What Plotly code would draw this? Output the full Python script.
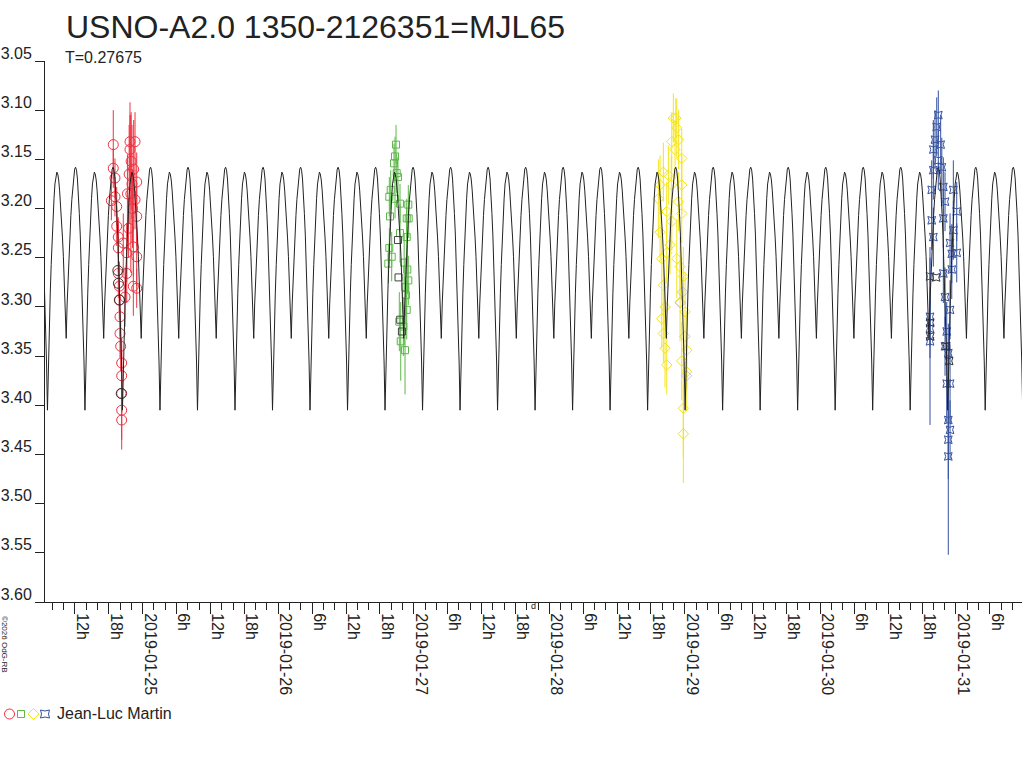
import pandas as pd
import plotly.graph_objects as go

TITLE = "USNO-A2.0 1350-2126351=MJL65"
SUBTITLE = "T=0.27675"
OBSERVER = "Jean-Luc Martin"
COPYRIGHT = "©2026 OdG-RB"

# model light curve: one cycle, repeated with the period T
period_days = 0.27675
epoch_min = "2019-01-25 09:42"  # a deep minimum
model_phase = [0.000, 0.025, 0.050, 0.075, 0.100, 0.125, 0.150, 0.175, 0.200, 0.225,
               0.250, 0.275, 0.300, 0.325, 0.350, 0.375, 0.400, 0.425, 0.450, 0.475,
               0.500, 0.525, 0.550, 0.575, 0.600, 0.625, 0.650, 0.675, 0.700, 0.725,
               0.750, 0.775, 0.800, 0.825, 0.850, 0.875, 0.900, 0.925, 0.950, 0.975]
model_mag = [3.405, 3.357, 3.318, 3.286, 3.257, 3.231, 3.209, 3.190, 3.175, 3.166,
             3.163, 3.165, 3.171, 3.182, 3.195, 3.210, 3.229, 3.249, 3.271, 3.298,
             3.332, 3.297, 3.269, 3.247, 3.226, 3.207, 3.191, 3.177, 3.167, 3.160,
             3.158, 3.161, 3.170, 3.185, 3.205, 3.227, 3.254, 3.284, 3.316, 3.356]

# night 2019-01-24, hours after midnight
red_hours = [18.79, 18.79, 19.09, 19.09, 19.40, 19.40, 19.68, 19.68, 19.68, 19.86,
             19.86, 19.98, 19.98, 20.10, 20.28, 20.28, 20.28, 20.28, 20.28,
             21.75, 22.64, 21.75, 21.95, 22.94, 22.64, 22.94, 22.34, 22.94, 21.17,
             22.34, 20.87, 22.94, 20.56, 21.17, 21.50, 21.30, 21.60, 22.10, 22.40,
             22.20, 18.45, 21.90]
red_mag = [3.135, 3.159, 3.169, 3.188, 3.198, 3.218, 3.229, 3.240, 3.266, 3.279,
           3.293, 3.310, 3.327, 3.340, 3.357, 3.370, 3.388, 3.405, 3.415,
           3.132, 3.132, 3.140, 3.152, 3.173, 3.191, 3.208, 3.239, 3.249, 3.266,
           3.279, 3.290, 3.281, 3.235, 3.245, 3.220, 3.185, 3.165, 3.175, 3.160,
           3.200, 3.192, 3.185]
red_err = [0.035, 0.020, 0.020, 0.020, 0.020, 0.020, 0.020, 0.025, 0.025, 0.025,
           0.020, 0.020, 0.025, 0.025, 0.025, 0.025, 0.020, 0.030, 0.030,
           0.040, 0.030, 0.035, 0.050, 0.030, 0.030, 0.030, 0.030, 0.030, 0.030,
           0.030, 0.030, 0.020, 0.030, 0.030, 0.030, 0.040, 0.050, 0.060, 0.050,
           0.040, 0.020, 0.080]
red_black_hours = [19.60, 19.70, 19.90, 20.20]
red_black_mag = [3.263, 3.276, 3.293, 3.388]

# night 2019-01-26
green_hours = [20.86, 20.68, 20.50, 20.98, 21.20, 19.92, 19.67, 20.68, 21.56, 23.03,
               19.79, 22.75, 23.10, 21.56, 22.75, 19.67, 20.09, 19.49, 22.30, 22.86,
               23.03, 22.50, 22.63, 22.75, 21.44, 22.15, 21.69, 22.45]
green_mag = [3.135, 3.147, 3.154, 3.164, 3.168, 3.181, 3.188, 3.190, 3.195, 3.196,
             3.208, 3.210, 3.210, 3.225, 3.229, 3.240, 3.249, 3.256, 3.255, 3.262,
             3.273, 3.280, 3.288, 3.303, 3.315, 3.320, 3.335, 3.344]
green_err = [0.020, 0.020, 0.020, 0.020, 0.020, 0.020, 0.020, 0.020, 0.020, 0.020,
             0.020, 0.020, 0.020, 0.030, 0.030, 0.020, 0.025, 0.020, 0.030, 0.025,
             0.025, 0.030, 0.030, 0.030, 0.030, 0.030, 0.040, 0.045]
green_black_hours = [21.20, 21.30, 21.60, 21.90]
green_black_mag = [3.232, 3.270, 3.313, 3.325]

# night 2019-01-28
yellow_hours = [21.96, 22.40, 22.57, 21.68, 22.90, 22.26, 23.45, 20.19, 19.61, 21.08,
                19.31, 21.60, 23.45, 22.85, 20.79, 23.45, 21.68, 19.61, 21.38, 19.91,
                20.79, 22.57, 23.15, 23.73, 20.19, 23.15, 20.49, 19.91, 24.04, 20.19,
                20.49, 24.34, 20.79, 23.45, 24.34, 23.73, 23.73]
yellow_mag = [3.108, 3.108, 3.118, 3.132, 3.130, 3.140, 3.149, 3.163, 3.176, 3.166,
              3.190, 3.176, 3.176, 3.193, 3.203, 3.205, 3.213, 3.224, 3.237, 3.251,
              3.245, 3.251, 3.259, 3.269, 3.278, 3.295, 3.300, 3.312, 3.305, 3.327,
              3.342, 3.344, 3.359, 3.355, 3.366, 3.403, 3.429]
yellow_err = [0.025, 0.020, 0.030, 0.030, 0.030, 0.030, 0.030, 0.030, 0.030, 0.030,
              0.040, 0.030, 0.030, 0.030, 0.030, 0.030, 0.030, 0.030, 0.030, 0.030,
              0.030, 0.040, 0.030, 0.030, 0.030, 0.040, 0.030, 0.030, 0.040, 0.030,
              0.040, 0.040, 0.030, 0.040, 0.040, 0.050, 0.050]
yellow_grey_hours = [23.20, 23.60, 24.00, 24.30]
yellow_grey_mag = [3.296, 3.285, 3.330, 3.370]

# night 2019-01-30
blue_hours = [20.88, 20.60, 20.30, 20.00, 21.30, 20.88, 20.00, 21.50, 19.71, 21.77,
              23.54, 22.07, 24.14, 19.71, 21.77, 23.54, 22.96, 20.00, 24.14, 23.26,
              21.77, 23.26, 19.41, 22.07, 22.96, 19.41, 19.41, 22.37, 19.41, 22.07,
              22.65, 22.37, 22.96, 22.65, 22.65, 22.65, 22.96]
blue_mag = [3.105, 3.117, 3.130, 3.140, 3.135, 3.151, 3.161, 3.158, 3.181, 3.178,
            3.181, 3.193, 3.203, 3.212, 3.210, 3.222, 3.235, 3.229, 3.245, 3.246,
            3.266, 3.262, 3.269, 3.290, 3.303, 3.310, 3.322, 3.325, 3.335, 3.340,
            3.347, 3.378, 3.378, 3.415, 3.435, 3.452, 3.425]
blue_err = [0.025, 0.030, 0.030, 0.030, 0.030, 0.030, 0.030, 0.030, 0.030, 0.030,
            0.030, 0.030, 0.030, 0.030, 0.030, 0.030, 0.030, 0.030, 0.030, 0.030,
            0.030, 0.030, 0.030, 0.030, 0.030, 0.030, 0.030, 0.030, 0.085, 0.030,
            0.030, 0.040, 0.040, 0.040, 0.040, 0.100, 0.030]
blue_black_hours = [19.45, 19.45, 20.50, 22.30, 22.80]
blue_black_mag = [3.316, 3.330, 3.270, 3.340, 3.355]

y_ticks = [3.05, 3.10, 3.15, 3.20, 3.25, 3.30, 3.35, 3.40, 3.45, 3.50, 3.55, 3.60]
x_tick_text = ["12h", "18h", "2019-01-25", "6h", "12h", "18h", "2019-01-26",
               "6h", "12h", "18h", "2019-01-27", "6h", "12h", "18h", "2019-01-28",
               "6h", "12h", "18h", "2019-01-29", "6h", "12h", "18h", "2019-01-30",
               "6h", "12h", "18h", "2019-01-31", "6h"]
x_range = ["2019-01-24 06:42", "2019-01-31 11:42"]
last_quarter = "2019-01-27 21:10"

FONT = "Liberation Sans, Arial, sans-serif"
INK = "#222222"


def to_time(date, hours):
    return pd.Timestamp(date) + pd.to_timedelta(hours, unit="h")


def model_curve():
    t0 = pd.Timestamp(epoch_min)
    times, mags = [], []
    for n in range(-5, 23):
        for ph, m in zip(model_phase, model_mag):
            times.append(t0 + pd.to_timedelta((n + ph) * period_days, unit="D"))
            mags.append(m)
    return times, mags


fig = go.Figure()


def add_group(date, hours, mag, err, color, symbol, size):
    fig.add_trace(
        go.Scatter(
            x=to_time(date, hours),
            y=mag,
            mode="markers",
            marker=dict(symbol=symbol, size=size, color=color, line=dict(width=1, color=color)),
            error_y=dict(type="data", array=err, width=0, thickness=1, color=color),
            showlegend=False,
        )
    )


def add_extra(date, hours, mag, color, symbol, size):
    fig.add_trace(
        go.Scatter(
            x=to_time(date, hours),
            y=mag,
            mode="markers",
            marker=dict(symbol=symbol, size=size, color=color, line=dict(width=1, color=color)),
            showlegend=False,
        )
    )


RED, GREEN, YELLOW, BLUE = "#ee3340", "#5cb848", "#f4e41c", "#3652a0"

add_group("2019-01-24", red_hours, red_mag, red_err, RED, "circle-open", 10)
add_extra("2019-01-24", red_black_hours, red_black_mag, "#333333", "circle-open", 10)
add_group("2019-01-26", green_hours, green_mag, green_err, GREEN, "square-open", 7)
add_extra("2019-01-26", green_black_hours, green_black_mag, "#444444", "square-open", 7)
add_group("2019-01-28", yellow_hours, yellow_mag, yellow_err, YELLOW, "diamond-open", 8)
add_extra("2019-01-28", yellow_grey_hours, yellow_grey_mag, "#c8c8c8", "diamond-open", 8)
add_group("2019-01-30", blue_hours, blue_mag, blue_err, BLUE, "star-square-open", 7)
add_extra("2019-01-30", blue_black_hours, blue_black_mag, "#333333", "star-square-open", 7)

mt, mm = model_curve()
fig.add_trace(
    go.Scatter(x=mt, y=mm, mode="lines", line=dict(color=INK, width=1), showlegend=False)
)

tickvals = pd.date_range("2019-01-24 12:00", periods=len(x_tick_text), freq="6h")

fig.update_layout(
    width=1024,
    height=768,
    margin=dict(l=45, r=2, t=61, b=166, autoexpand=False),
    paper_bgcolor="white",
    plot_bgcolor="white",
    font=dict(family=FONT, color=INK),
    xaxis=dict(
        type="date",
        range=x_range,
        tickmode="array",
        tickvals=tickvals,
        ticktext=x_tick_text,
        tickangle=90,
        ticks="outside",
        ticklen=11,
        tickcolor=INK,
        ticklabelshift=7,
        ticklabelstandoff=-4,
        tickfont=dict(size=16, family=FONT, color=INK),
        minor=dict(ticks="outside", ticklen=7, tickcolor=INK,
                   tick0="2019-01-24 00:00", dtick=2 * 3600 * 1000),
        showline=True,
        linecolor=INK,
        linewidth=1,
        showgrid=False,
        zeroline=False,
    ),
    yaxis=dict(
        range=[3.60, 3.05],
        tickmode="array",
        tickvals=y_ticks,
        ticktext=["%.2f" % v for v in y_ticks],
        ticks="outside",
        ticklen=9,
        tickcolor=INK,
        ticklabelshift=8,
        tickfont=dict(size=16, family=FONT, color=INK),
        showline=True,
        linecolor=INK,
        linewidth=1,
        showgrid=False,
        zeroline=False,
    ),
)

ann = [
    dict(text=TITLE, x=0, y=1, xref="paper", yref="paper", xanchor="left", yanchor="middle",
         xshift=19, yshift=34, showarrow=False, font=dict(size=32, color=INK)),
    dict(text=SUBTITLE, x=0, y=1, xref="paper", yref="paper", xanchor="left", yanchor="middle",
         xshift=18, yshift=4, showarrow=False, font=dict(size=16, color=INK)),
    dict(text=OBSERVER, x=0, y=0, xref="paper", yref="paper", xanchor="left", yanchor="middle",
         xshift=10, yshift=-111, showarrow=False, font=dict(size=16, color=INK)),
    dict(text=COPYRIGHT, x=0, y=0, xref="paper", yref="paper", xanchor="center", yanchor="middle",
         xshift=-40, yshift=-42, textangle=90, showarrow=False, font=dict(size=8, color=INK)),
    dict(text="d", x=last_quarter, y=0, xref="x", yref="paper", xanchor="center", yanchor="middle",
         yshift=-4, showarrow=False, font=dict(size=9, color=INK)),
]
fig.update_layout(annotations=ann)

# legend symbols drawn in pixels below the axis
leg = dict(xref="paper", yref="paper", xsizemode="pixel", ysizemode="pixel",
           xanchor=0, yanchor=0)
shapes = [
    dict(type="circle", x0=-40.5, x1=-30.5, y0=-117, y1=-107, line=dict(color=RED, width=1), **leg),
    dict(type="rect", x0=-27.5, x1=-20.5, y0=-115.5, y1=-108.5, line=dict(color=GREEN, width=1), **leg),
    dict(type="path", path="M -17 -112 L -11.5 -106.5 L -6 -112 L -11.5 -117.5 Z",
         line=dict(color=YELLOW, width=1), **leg),
    dict(type="path", path="M -4.5 -108 Q 0 -110 4.5 -108 Q 2.5 -112 4.5 -116 Q 0 -114 -4.5 -116 Q -2.5 -112 -4.5 -108 Z",
         line=dict(color=BLUE, width=1), **leg),
]
fig.update_layout(shapes=shapes)

fig.write_html("out.html", config={"displayModeBar": False},
               post_script="document.body.style.margin='0';")
